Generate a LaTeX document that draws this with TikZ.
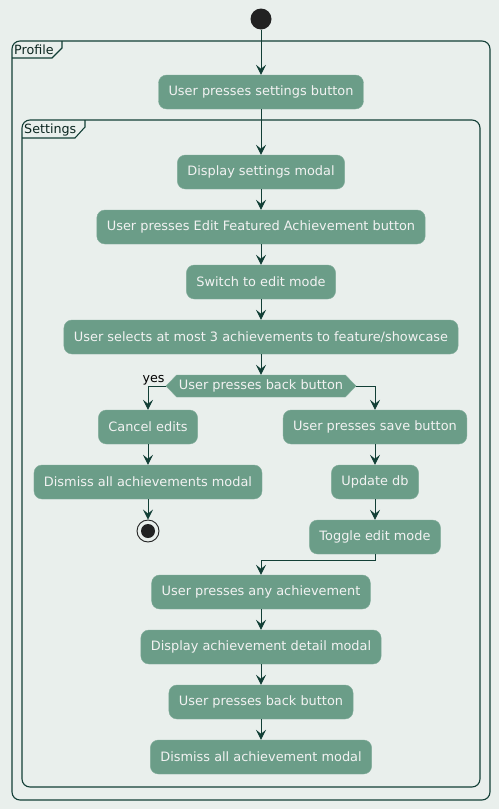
\documentclass[tikz,border=0pt]{standalone}
\usepackage{fontspec}
\setmainfont{DejaVu Sans}
\usetikzlibrary{arrows.meta, shapes.symbols}

\definecolor{bgcol}{HTML}{E9EFEC}
\definecolor{actfill}{HTML}{6B9D88}
\definecolor{linecol}{HTML}{123F36}
\definecolor{dotcol}{HTML}{222222}

\tikzset{
  act/.style={rectangle, rounded corners=8pt, fill=actfill, draw=actfill!85!white, text=white!95!black,
    minimum height=34pt, inner xsep=10pt, font=\fontsize{12.9}{15}\selectfont},
  choice/.style={signal, signal to=west and east, signal pointer angle=92, fill=actfill, draw=actfill!85!white,
    text=white!95!black, minimum height=22pt, minimum width=190pt, inner sep=1pt, font=\fontsize{12.9}{15}\selectfont},
  startdot/.style={circle, fill=dotcol, minimum size=21pt, inner sep=0pt},
  stopdot/.style={circle, draw=dotcol, line width=0.9pt, minimum size=22pt, inner sep=0pt,
    path picture={\fill[dotcol] (path picture bounding box.center) circle (7pt);}},
  flow/.style={draw=linecol, line width=0.9pt, -{Stealth[length=10pt,width=10pt,inset=4pt]}},
  frame/.style={draw=linecol, line width=1.1pt},
  framelabel/.style={anchor=west, inner sep=1pt, text=linecol!60!black, font=\fontsize{12.7}{15}\selectfont}
}

\begin{document}
\begin{tikzpicture}[x=1pt, y=-1pt]
\fill[bgcol] (0,0) rectangle (499,809);
\useasboundingbox (0,0) rectangle (499,809);

% partitions
\draw[frame, rounded corners=8pt] (12,41) -- (490,41) -- (490,800) -- (12,800) -- cycle;
\draw[frame] (62,41) -- (62,48) -- (52,58) -- (12,58);
\node[framelabel] (lblprofile) at (13,50) {Profile};
\draw[frame, rounded corners=8pt] (22,120) -- (480,120) -- (480,787) -- (22,787) -- cycle;
\draw[frame] (85,120) -- (85,127) -- (75,138) -- (22,138);
\node[framelabel] (lblsettings) at (23,129.5) {Settings};

% activities
\node[startdot] (start) at (261,19) {};
\node[act] (pressSettings) at (261,92) {User presses settings button};
\node[act] (showSettings) at (261,172) {Display settings modal};
\node[act] (pressEdit) at (261,227) {User presses Edit Featured Achievement button};
\node[act] (editMode) at (261,282) {Switch to edit mode};
\node[act] (selectAch) at (261,337) {User selects at most 3 achievements to feature/showcase};
\node[choice] (backChoice) at (261,386) {User presses back button};

\node[act] (cancelEdits) at (148,427) {Cancel edits};
\node[act] (dismissAll) at (148,482) {Dismiss all achievements modal};
\node[stopdot] (stop) at (148,531) {};

\node[act] (pressSave) at (375,427) {User presses save button};
\node[act] (updateDb) at (375,482) {Update db};
\node[act] (toggleEdit) at (375,537) {Toggle edit mode};

\node[act] (pressAny) at (261,592) {User presses any achievement};
\node[act] (showDetail) at (261,647) {Display achievement detail modal};
\node[act] (pressBack) at (261,702) {User presses back button};
\node[act] (dismissDetail) at (261,757) {Dismiss all achievement modal};

% connectors
\draw[flow] (start) -- (pressSettings);
\draw[flow] (pressSettings) -- (showSettings);
\draw[flow] (showSettings) -- (pressEdit);
\draw[flow] (pressEdit) -- (editMode);
\draw[flow] (editMode) -- (selectAch);
\draw[flow] (selectAch.south) -- (backChoice.north);
\draw[flow] (backChoice.west) -| (cancelEdits.north);
\node[anchor=south east, inner sep=1pt, font=\fontsize{12.7}{15}\selectfont] (yesLbl) at (backChoice.west) {yes};
\draw[flow] (cancelEdits) -- (dismissAll);
\draw[flow] (dismissAll) -- (stop);
\draw[flow] (backChoice.east) -| (pressSave.north);
\draw[flow] (pressSave) -- (updateDb);
\draw[flow] (updateDb) -- (toggleEdit);
\draw[flow] (toggleEdit.south) -- ++(0,6) -| (pressAny.north);
\draw[flow] (pressAny) -- (showDetail);
\draw[flow] (showDetail) -- (pressBack);
\draw[flow] (pressBack) -- (dismissDetail);
\end{tikzpicture}
\end{document}
